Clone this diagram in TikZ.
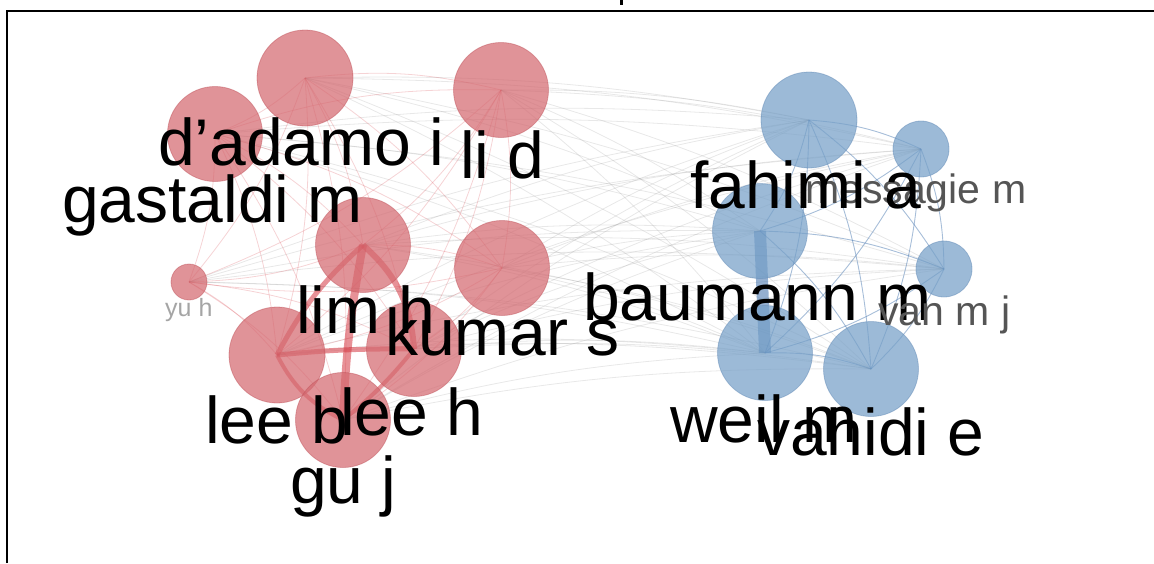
\documentclass[tikz,border=0pt]{standalone}
\usepackage{fontspec}
\setmainfont{Liberation Sans}
\usetikzlibrary{backgrounds}
\definecolor{rfill}{RGB}{212,105,112}
\definecolor{rdraw}{RGB}{190,80,88}
\definecolor{bfill}{RGB}{118,160,200}
\definecolor{bdraw}{RGB}{95,135,180}
\definecolor{redgec}{RGB}{212,55,65}
\definecolor{bedgec}{RGB}{60,110,170}
\definecolor{gedgec}{RGB}{150,150,150}
\definecolor{midgray}{RGB}{85,85,85}
\definecolor{lightgray2}{RGB}{165,165,165}
\tikzset{
  rnode/.style={circle, inner sep=0pt, minimum size=#1, fill=rfill, fill opacity=0.72, draw=rdraw, draw opacity=0.45, line width=0.8pt},
  bnode/.style={circle, inner sep=0pt, minimum size=#1, fill=bfill, fill opacity=0.72, draw=bdraw, draw opacity=0.45, line width=0.8pt},
  biglbl/.style={anchor=base west, inner sep=0pt, font=\fontsize{66}{66}\selectfont, text=black},
  midlbl/.style={anchor=base west, inner sep=0pt, font=\fontsize{41}{41}\selectfont, text=midgray},
  smalllbl/.style={anchor=base west, inner sep=0pt, font=\fontsize{25}{25}\selectfont, text=lightgray2},
  gline/.style={draw=gedgec, draw opacity=0.22, line width=0.8pt},
  rline/.style={draw=redgec, draw opacity=0.22, line width=0.8pt},
  bline/.style={draw=bedgec, draw opacity=0.45, line width=0.9pt},
  rthick/.style={draw=redgec, draw opacity=0.55, line width=#1},
  bthick/.style={draw=bedgec, draw opacity=0.55, line width=#1},
}
\begin{document}
\begin{tikzpicture}[x=1pt, y=-1pt]
\useasboundingbox (0,0) rectangle (1154,563);
% frame
\draw[line width=1.3pt] (7,563) -- (7,11) -- (1154,11);
\fill (620,0) rectangle (623,5);

% red nodes
\node[rnode=96pt] (rA) at (305,78) {};
\node[rnode=95pt] (rB) at (215,134) {};
\node[rnode=95pt] (rC) at (501,90) {};
\node[rnode=95pt] (rD) at (363,245) {};
\node[rnode=95pt] (rE) at (502,268) {};
\node[rnode=36pt] (rF) at (189,282) {};
\node[rnode=96pt] (rG) at (277,355) {};
\node[rnode=95pt] (rH) at (414,349) {};
\node[rnode=95pt] (rI) at (343,420) {};
% blue nodes
\node[bnode=96pt] (bA) at (809,120) {};
\node[bnode=56pt] (bB) at (921,149) {};
\node[bnode=95pt] (bC) at (760,231) {};
\node[bnode=56pt] (bD) at (944,269) {};
\node[bnode=95pt] (bE) at (765,353) {};
\node[bnode=95pt] (bF) at (871,369) {};

\begin{pgfonlayer}{background}
  % between clusters
  \foreach \r in {rA,rB,rC,rD,rE,rF,rG,rH,rI}
    \foreach \b in {bA,bB,bC,bD,bE,bF}
      \draw[gline] (\r.center) to[bend left=6] (\b.center);
  % red cluster
  \foreach \a/\b in {rA/rB,rA/rC,rA/rD,rA/rE,rA/rF,rA/rG,rA/rH,rA/rI,
                     rB/rC,rB/rD,rB/rE,rB/rF,rB/rG,rB/rH,rB/rI,
                     rC/rD,rC/rE,rC/rF,rC/rG,rC/rH,rC/rI,
                     rD/rE,rD/rF,rE/rF,rE/rG,rE/rH,rE/rI,
                     rF/rG,rF/rH,rF/rI}
    \draw[rline] (\a.center) to[bend left=10] (\b.center);
  % blue cluster
  \foreach \a/\b in {bA/bB,bA/bC,bA/bD,bA/bE,bA/bF,bB/bC,bB/bD,bB/bE,bB/bF,
                     bC/bD,bC/bF,bD/bE,bD/bF,bE/bF}
    \draw[bline] (\a.center) to[bend left=10] (\b.center);
  % strong links
  \draw[rthick=8pt] (rD.center) to[bend right=4] (rI.center);
  \draw[rthick=5pt] (rD.center) to[bend right=10] (rG.center);
  \draw[rthick=6pt] (rD.center) to[bend left=22] (rH.center);
  \draw[rthick=5pt] (rG.center) to[bend left=3] (rH.center);
  \draw[rthick=4pt] (rG.center) to[bend right=18] (rI.center);
  \draw[rthick=4pt] (rH.center) to[bend left=6] (rI.center);
  \draw[bthick=12pt] (bC.center) -- (bE.center);
\end{pgfonlayer}

% labels
\node[biglbl] (lA) at (158,165) {d’adamo i};
\node[biglbl] (lC) at (460,178) {li d};
\node[biglbl] (lB) at (62,222) {gastaldi m};
\node[smalllbl] (lF) at (165,316) {yu h};
\node[biglbl] (lD) at (296,333) {lim h};
\node[biglbl] (lE) at (385,355) {kumar s};
\node[biglbl] (lG) at (205,443) {lee b};
\node[biglbl] (lH) at (340,435) {lee h};
\node[biglbl] (lI) at (290,503) {gu j};
\node[midlbl] (lbB) at (805,203) {messagie m};
\node[biglbl] (lbA) at (690,208) {fahimi a};
\node[biglbl] (lbC) at (583,320) {baumann m};
\node[midlbl] (lbD) at (878,325) {van m j};
\node[biglbl] (lbE) at (670,442) {weil m};
\node[biglbl] (lbF) at (757,455) {vahidi e};
\end{tikzpicture}
\end{document}
